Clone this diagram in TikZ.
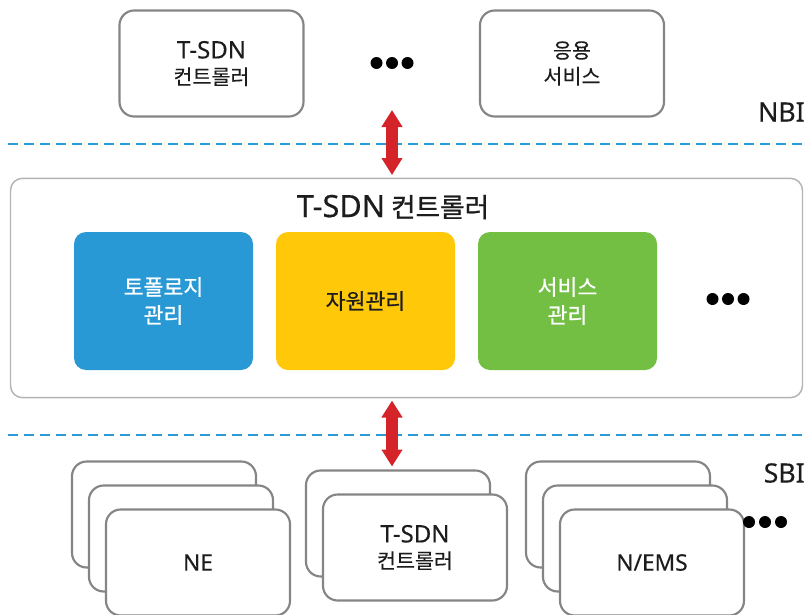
\documentclass[tikz,border=0pt]{standalone}
\usepackage{fontspec}
\setmainfont{Noto Sans CJK KR}[FakeBold=0.35]
\newfontfamily\latf{Noto Sans}[FakeBold=0.2]
\newfontfamily\kmed{Noto Sans CJK KR}[FakeBold=0.9]
\newfontfamily\latmed{Noto Sans}[FakeBold=0.5]
\newcommand{\latx}[2]{{\latf\fontsize{#1}{#1}\selectfont #2}}
\newcommand{\latm}[2]{{\latmed\fontsize{#1}{#1}\selectfont #2}}
\usetikzlibrary{arrows.meta}
\definecolor{boxgray}{HTML}{858585}
\definecolor{framegray}{HTML}{B4B4B4}
\definecolor{dashblue}{HTML}{2A9BD8}
\definecolor{topoblue}{HTML}{2899D5}
\definecolor{resyellow}{HTML}{FFC90A}
\definecolor{svcgreen}{HTML}{72BF44}
\definecolor{arrowred}{HTML}{D42429}
\definecolor{inkc}{HTML}{1C1C1C}
\begin{document}
\begin{tikzpicture}[x=0.75pt,y=-0.75pt,
  outlinebox/.style={draw=boxgray, line width=1.6pt, fill=white, rounded corners=11pt,
    inner sep=0pt, minimum width=138pt, minimum height=79.5pt, align=center, text=inkc,
    font=\fontsize{15.5}{19.5}\selectfont},
  framebox/.style={draw=framegray, line width=1.1pt, fill=white, rounded corners=9pt,
    inner sep=0pt, minimum width=594pt, minimum height=164.5pt},
  modbox/.style={draw=none, rounded corners=9pt, inner sep=0pt,
    minimum width=134.25pt, minimum height=103.5pt, align=center,
    font=\kmed\fontsize{16.2}{21}\selectfont},
  dotnode/.style={circle, fill=black, inner sep=0pt, minimum size=9pt},
  sepline/.style={dashblue, line width=1.6pt, dash pattern=on 7.5pt off 4.5pt},
  redarrow/.style={arrowred, line width=9pt,
    {Triangle[width=15pt,length=12.75pt]}-{Triangle[width=15pt,length=12.75pt]}},
  ifacelabel/.style={anchor=east, inner sep=0pt, text=inkc}
  ]
\useasboundingbox (0,0) rectangle (806,614);
\clip (0,0) rectangle (806,614);
\fill[white] (0,0) rectangle (806,614);

% top row
\node[outlinebox] (topctl) at (211.5,63.5) {\latx{18}{T-SDN}\\컨트롤러};
\node[outlinebox] (topapp) at (572,63.5) {응용\\서비스};
\node[dotnode] (td1) at (376.5,63) {};
\node[dotnode] (td2) at (392,63) {};
\node[dotnode] (td3) at (407.5,63) {};
\node[ifacelabel] (nbi) at (805,112) {\latx{20}{NBI}};

% separators
\coordinate (nbiL) at (8,144);
\coordinate (nbiR) at (806,144);
\draw[sepline] (nbiL) -- (nbiR);
\coordinate (sbiL) at (8,435);
\coordinate (sbiR) at (806,435);
\draw[sepline] (sbiL) -- (sbiR);

% main frame
\node[framebox] (frame) at (406.5,288) {};
\node[inner sep=0pt, text=inkc, font=\kmed\fontsize{20}{24}\selectfont] (title) at (393,207)
  {\latm{23}{T-SDN} 컨트롤러};
\node[modbox, fill=topoblue, text=white] (topo) at (163.5,301) {토폴로지\\관리};
\node[modbox, fill=resyellow, text=inkc] (res) at (365.5,301) {자원관리};
\node[modbox, fill=svcgreen, text=white] (svc) at (567.5,301) {서비스\\관리};
\node[dotnode] (md1) at (712.5,299) {};
\node[dotnode] (md2) at (728,299) {};
\node[dotnode] (md3) at (743.5,299) {};

% arrows
\coordinate (a1t) at (392,110);
\coordinate (a1b) at (392,175);
\draw[redarrow] (a1t) -- (a1b);
\coordinate (a2t) at (392,400.5);
\coordinate (a2b) at (392,466.5);
\draw[redarrow] (a2t) -- (a2b);

\node[ifacelabel] (sbi) at (805,473) {\latx{20}{SBI}};

% bottom stacks
\node[outlinebox] (ne1) at (164,514.5) {};
\node[outlinebox] (ne2) at (181,538.5) {};
\node[outlinebox] (ne3) at (198,562.5) {\latx{17}{NE}};

\node[outlinebox] (sc1) at (398,523.5) {};
\node[outlinebox] (sc2) at (415,547.5) {\latx{18}{T-SDN}\\컨트롤러};

\node[outlinebox] (em1) at (618,514.5) {};
\node[outlinebox] (em2) at (635,538.5) {};
\node[outlinebox] (em3) at (652,562.5) {\latx{17}{N/EMS}};

\node[dotnode] (bd1) at (749,522) {};
\node[dotnode] (bd2) at (765,522) {};
\node[dotnode] (bd3) at (781,522) {};
\end{tikzpicture}
\end{document}
